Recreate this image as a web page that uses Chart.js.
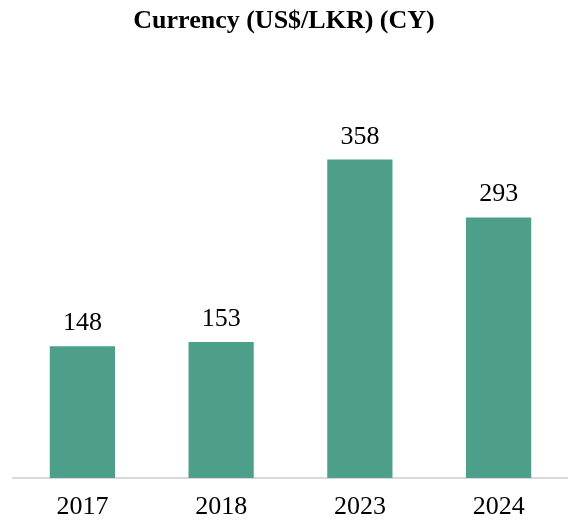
<!DOCTYPE html>
<html>
<head>
<meta charset="utf-8">
<script src="https://cdn.jsdelivr.net/npm/chart.js@4.4.0/dist/chart.umd.min.js"></script>
<style>
  html, body { margin: 0; padding: 0; background: #fff; }
  #wrap { width: 568px; height: 521px; }
</style>
</head>
<body>
<div id="wrap"><canvas id="bar-chart"></canvas></div>
<script>
const years = ["2017", "2018", "2023", "2024"];
const rates = [148, 153, 358, 293];

const serif = "'Liberation Serif', 'Times New Roman', Times, serif";

// value printed above each bar
const barValues = {
    id: 'barValues',
    afterDatasetsDraw(chart) {
        const ctx = chart.ctx;
        const meta = chart.getDatasetMeta(0);
        ctx.save();
        ctx.font = '26px ' + serif;
        ctx.fillStyle = '#000';
        ctx.textAlign = 'center';
        ctx.textBaseline = 'alphabetic';
        meta.data.forEach((bar, i) => {
            ctx.fillText(rates[i], bar.x, bar.y - 16);
        });
        ctx.restore();
    }
};

new Chart(document.getElementById("bar-chart"), {
    type: 'bar',
    data: {
        labels: years,
        datasets: [{
            label: "US$/LKR",
            data: rates,
            backgroundColor: '#4d9f8a',
            barPercentage: 0.47,
            categoryPercentage: 1
        }]
    },
    options: {
        responsive: true,
        maintainAspectRatio: false,
        animation: false,
        layout: {
            padding: 0
        },
        plugins: {
            legend: { display: false },
            tooltip: { enabled: false },
            title: {
                display: true,
                text: 'Currency (US$/LKR) (CY)',
                color: '#000',
                font: { family: serif, size: 26, weight: 'bold' },
                padding: { top: 6, bottom: 85 }
            }
        },
        scales: {
            x: {
                grid: { display: false, drawTicks: false },
                border: { display: true, color: '#d9d9d9', width: 2 },
                ticks: {
                    color: '#000',
                    padding: 14,
                    font: { family: serif, size: 26 }
                },
                afterFit(scale) {
                    scale.height = 43;
                }
            },
            y: {
                min: 0,
                max: 400,
                grid: { display: false, drawTicks: false },
                border: { display: false },
                ticks: { display: false },
                // empty strip that keeps the axis line off the left edge
                afterFit(scale) {
                    scale.width = 13;
                }
            }
        }
    },
    plugins: [barValues]
});
</script>
</body>
</html>
